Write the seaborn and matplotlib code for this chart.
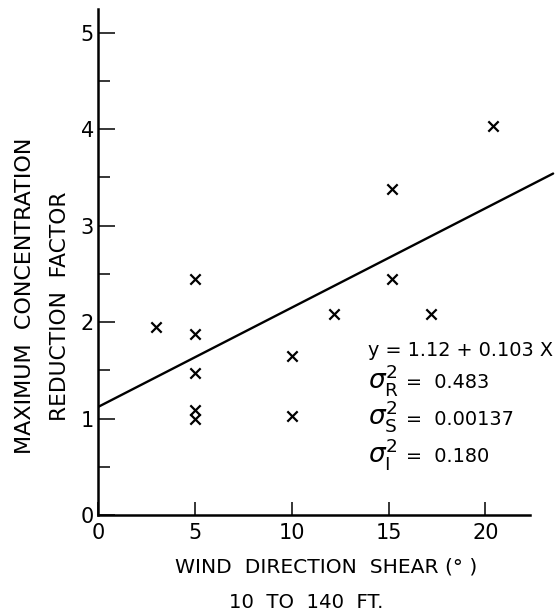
import numpy as np
import matplotlib
matplotlib.use("Agg")
import matplotlib.pyplot as plt
import seaborn as sns

# Data
shear = [3, 5, 5, 5, 5, 5, 10, 10, 12.2, 15.2, 15.2, 17.2, 20.4]
factor = [1.95, 2.45, 1.88, 1.47, 1.09, 1.0, 1.65, 1.03, 2.08, 2.45, 3.38, 2.08, 4.03]
intercept = 1.12
slope = 0.103
x_ticks = [0, 5, 10, 15, 20]
y_ticks = [0, 1, 2, 3, 4, 5]
stat_names = ["R", "S", "I"]
stat_values = ["0.483", "0.00137", "0.180"]

sns.set_style("ticks")
plt.rcParams["font.family"] = ["DejaVu Sans"]
plt.rcParams["mathtext.fontset"] = "dejavusans"
plt.rcParams["text.color"] = "black"

W, H = 557, 611
fig = plt.figure(figsize=(W / 100, H / 100), dpi=100)
fx = lambda p: p / W
fy = lambda p: 1 - p / H

ax = fig.add_axes([fx(98), fy(515), fx(557 - 98), 515 / H])

sns.scatterplot(x=shear, y=factor, marker="x", s=55, color="black",
                linewidth=1.6, ax=ax, zorder=3)

fit_x = np.array([0, 23.5])
fit_y = intercept + slope * fit_x
sns.lineplot(x=fit_x, y=fit_y, color="black", linewidth=1.7, ax=ax)

ax.set_xlim(0, 23.7)
ax.set_ylim(0, 5.34)
ax.spines["top"].set_visible(False)
ax.spines["right"].set_visible(False)
ax.spines["left"].set_bounds(0, 5.25)
ax.spines["bottom"].set_bounds(0, 22.3)
for s in ("left", "bottom"):
    ax.spines[s].set_linewidth(1.8)
    ax.spines[s].set_color("black")

ax.set_xticks(x_ticks)
ax.set_yticks(y_ticks)
ax.set_yticks(np.arange(0.5, 5.0, 1.0), minor=True)
ax.tick_params(axis="y", which="major", direction="in", length=12, width=1.1,
               pad=3, labelsize=15, colors="black")
ax.tick_params(axis="y", which="minor", direction="in", length=8.5, width=1.1,
               colors="black")
ax.tick_params(axis="x", which="major", direction="in", length=9.5, width=1.1,
               pad=6, labelsize=15, colors="black")
ax.set_xlabel("")
ax.set_ylabel("")

# axis titles
fig.text(fx(25), fy(296), "MAXIMUM  CONCENTRATION", rotation=90,
         ha="center", va="center", fontsize=16)
fig.text(fx(60), fy(306), "REDUCTION  FACTOR", rotation=90,
         ha="center", va="center", fontsize=15.7)
fig.text(fx(326), fy(567), "WIND  DIRECTION  SHEAR (° )",
         ha="center", va="center", fontsize=14.6)
fig.text(fx(306), fy(603), "10  TO  140  FT.",
         ha="center", va="center", fontsize=14.2)

# regression statistics
fig.text(fx(368), fy(356), "y = 1.12 + 0.103 X", ha="left", va="baseline",
         fontsize=13.9)
for name, val, base in zip(stat_names, stat_values, [388, 425, 462]):
    fig.text(fx(368), fy(base), r"$\sigma_{\mathrm{%s}}^{2}$" % name,
             ha="left", va="baseline", fontsize=19)
    fig.text(fx(406), fy(base), "=  " + val, ha="left", va="baseline",
             fontsize=13.9)

fig.savefig("out.png", dpi=100)
